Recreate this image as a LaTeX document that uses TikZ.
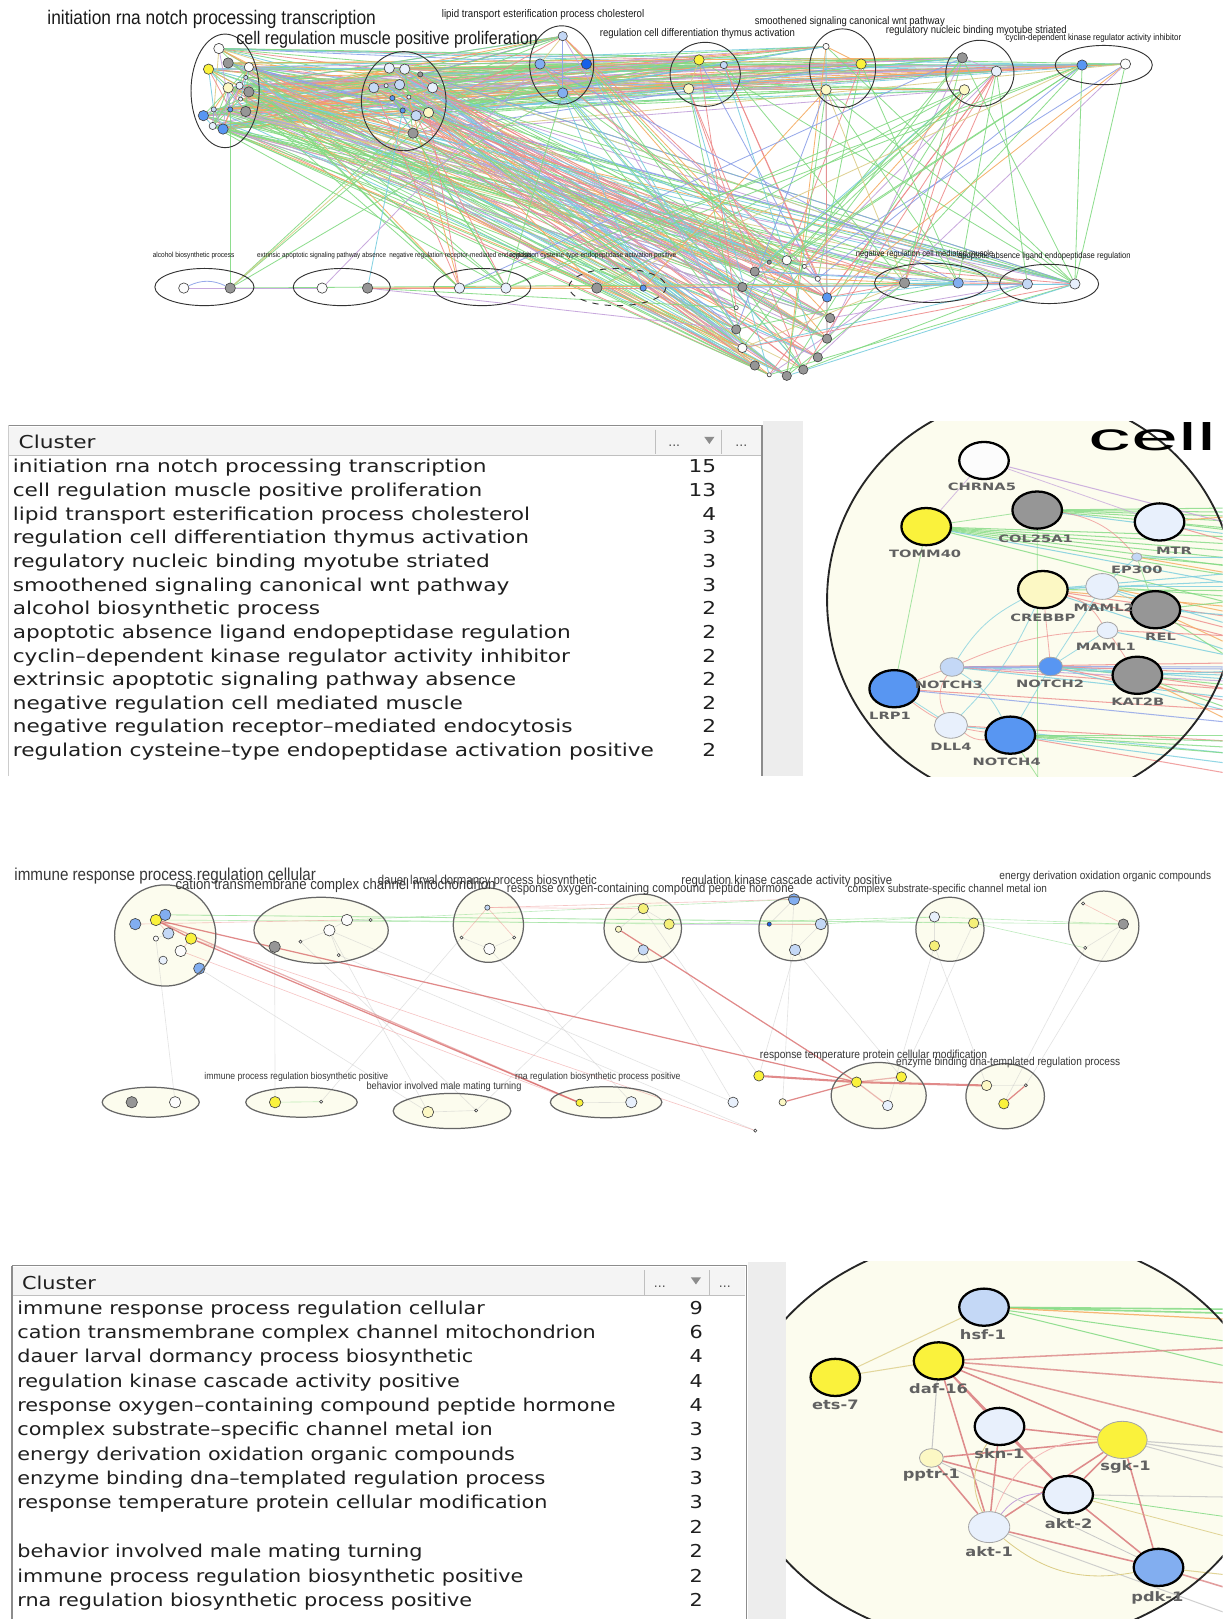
\documentclass[tikz,border=0pt]{standalone}
\usepackage{fontspec}
\usepackage{graphicx}
\usetikzlibrary{shapes.geometric}
\setmainfont{DejaVu Sans}
\newfontfamily\netfont[FakeStretch=0.88]{Liberation Sans}
\newfontfamily\tabfontA[FakeStretch=1.22]{DejaVu Sans}
\newfontfamily\tabfontB[FakeStretch=1.17]{DejaVu Sans}
\newfontfamily\zfontA[FakeStretch=1.45]{DejaVu Sans}
\newfontfamily\zfontB[FakeStretch=1.25]{DejaVu Sans}
\newfontfamily\bigfont{Liberation Sans}
\pgfdeclarelayer{back}
\pgfdeclarelayer{mid}
\pgfsetlayers{back,mid,main}
\definecolor{nwhite}{RGB}{252,252,252}
\definecolor{nvl}{RGB}{232,240,252}
\definecolor{nlb}{RGB}{196,216,246}
\definecolor{nmb}{RGB}{130,174,240}
\definecolor{nbl}{RGB}{88,150,242}
\definecolor{ndb}{RGB}{22,96,232}
\definecolor{ngr}{RGB}{150,150,150}
\definecolor{nye}{RGB}{250,242,60}
\definecolor{nye2}{RGB}{245,240,120}
\definecolor{nly}{RGB}{252,248,196}
\definecolor{eg}{RGB}{130,218,130}
\definecolor{ep}{RGB}{238,140,140}
\definecolor{ec}{RGB}{120,205,222}
\definecolor{el}{RGB}{195,160,218}
\definecolor{eo}{RGB}{245,170,95}
\definecolor{et}{RGB}{220,205,135}
\definecolor{eb}{RGB}{140,160,232}
\definecolor{egr}{RGB}{200,200,200}
\definecolor{ered}{RGB}{215,100,100}
\definecolor{zred}{RGB}{222,140,140}
\definecolor{cream}{RGB}{252,252,238}
\definecolor{strip}{RGB}{237,237,237}
\definecolor{hdr}{RGB}{244,244,244}
\pgfmathdeclarerandomlist{ecol}{{eg}{eg}{eg}{eg}{eg}{eg}{eg}{ep}{ep}{ep}{ec}{ec}{ec}{el}{el}{el}{eo}{eo}{et}{eb}}
\newcommand\rndedge[3]{\pgfmathtruncatemacro\okedge{rnd<#3}\ifnum\okedge=1\relax\pgfmathrandomitem{\edgecol}{ecol}\draw[lnk,draw=\edgecol] (#1) -- (#2);\fi}
\newcommand\netnode[5]{\node[nd,fill=#4,minimum size=#5pt] (#1) at (#2,#3) {};}
\newcommand\netlab[6]{\node[#1] (#2) at (#3,#4) {\resizebox{#5pt}{!}{\netfont #6}};}
\def\Cone{c1a,c1b,c1c,c1d,c1e,c1f,c1g,c1h,c1i,c1j,c1k,c1l,c1m,c1n,c1o}
\def\Ctwo{c2a,c2b,c2c,c2d,c2e,c2f,c2g,c2h,c2i,c2j,c2k,c2l,c2m}
\def\Cright{c3a,c3b,c3c,c3d,c4a,c4b,c4c,c5a,c5b,c5c,c6a,c6b,c6c,c7a,c7b}
\def\Ring{r1,r2,r3,r4,r5,r6,r7,r8,r9,r10,r11,r12,r13,r14,r15,r16,r17}
\def\Brow{b3a,b3b,b4a,b4b,b5a,b5b,b6a,b6b}
\begin{document}
\begin{tikzpicture}[x=0.5pt,y=-0.5pt,
  nd/.style={circle,draw=black!75,line width=0.3pt,inner sep=0pt},
  zn/.style={ellipse,inner sep=0pt,minimum width=24pt,minimum height=18pt,draw=black,line width=1.1pt},
  zs/.style={ellipse,inner sep=0pt,draw=black!35,line width=0.4pt},
  lnk/.style={line width=0.4pt,opacity=0.9},
  ell/.style={draw=black!80,line width=0.45pt},
  bell/.style={draw=black!60,line width=0.6pt},
  nlab/.style={inner sep=0pt,text=black!90},
  mlab/.style={inner sep=0pt,text=black!78},
  tabA/.style={inner sep=0pt,font=\tabfontA\fontsize{8.6}{10}\selectfont,text=black!88},
  tabB/.style={inner sep=0pt,font=\tabfontB\fontsize{8.6}{10}\selectfont,text=black!88},
  dots/.style={inner sep=0pt,font=\fontsize{6}{6}\selectfont,text=black!70},
  zl/.style={line width=0.5pt,opacity=0.8},
  zi/.style={line width=0.4pt,opacity=0.7},
  zlabA/.style={inner sep=0.5pt,font=\zfontA\bfseries\fontsize{4.9}{5}\selectfont,text=black!62},
  zlabB/.style={inner sep=0.5pt,font=\zfontB\bfseries\fontsize{6.3}{7}\selectfont,text=black!62},
  zr/.style={line width=0.75pt,draw=zred},
  bl/.style={line width=0.3pt,opacity=0.5},
  rl/.style={line width=0.6pt,draw=ered,opacity=0.75},
]
\useasboundingbox (0,0) rectangle (1184,1568);
\begin{pgfonlayer}{back}
\fill[white] (0,0) rectangle (1184,1568);
\end{pgfonlayer}
\pgfmathsetseed{4242}

% ================= TOP NETWORK =================
\netnode{c1a}{212}{47}{nwhite}{5}
\netnode{c1b}{221}{61}{ngr}{5}
\netnode{c1c}{241}{65}{nwhite}{4.5}
\netnode{c1d}{202}{67}{nye}{5}
\netnode{c1e}{238}{75}{nlb}{2}
\netnode{c1f}{221}{85}{nly}{5}
\netnode{c1g}{232}{83}{nvl}{3.5}
\netnode{c1h}{241}{89}{ngr}{5}
\netnode{c1i}{233}{96}{nvl}{2}
\netnode{c1j}{223}{106}{nbl}{2.5}
\netnode{c1k}{207}{106}{nlb}{2.5}
\netnode{c1l}{238}{108}{ngr}{5}
\netnode{c1m}{197}{112}{nbl}{5}
\netnode{c1n}{206}{122}{nvl}{3.5}
\netnode{c1o}{216}{125}{nbl}{5}
\netnode{c2a}{377}{66}{nvl}{5}
\netnode{c2b}{392}{67}{nvl}{5}
\netnode{c2c}{407}{72}{ngr}{2.5}
\netnode{c2d}{362}{85}{nlb}{5}
\netnode{c2e}{374}{83}{nvl}{2}
\netnode{c2f}{387}{82}{nlb}{5}
\netnode{c2g}{419}{85}{nvl}{5}
\netnode{c2h}{380}{95}{nbl}{2.5}
\netnode{c2i}{396}{94}{nvl}{2}
\netnode{c2j}{390}{107}{nbl}{2.5}
\netnode{c2k}{403}{112}{nlb}{5}
\netnode{c2l}{415}{109}{nly}{5}
\netnode{c2m}{400}{129}{ngr}{5}
\netnode{c3a}{545}{35}{nlb}{4.5}
\netnode{c3b}{523}{62}{nmb}{5}
\netnode{c3c}{568}{62}{ndb}{5}
\netnode{c3d}{545}{90}{nmb}{5}
\netnode{c4a}{677}{58}{nye}{5}
\netnode{c4b}{701}{63}{nlb}{3.5}
\netnode{c4c}{667}{86}{nly}{5}
\netnode{c5a}{800}{45}{nwhite}{3}
\netnode{c5b}{834}{62}{nye}{5}
\netnode{c5c}{800}{87}{nly}{5}
\netnode{c6a}{932}{56}{ngr}{5}
\netnode{c6b}{965}{69}{nvl}{5}
\netnode{c6c}{934}{87}{nly}{5}
\netnode{c7a}{1048}{63}{nbl}{5}
\netnode{c7b}{1090}{62}{nwhite}{5}
\netnode{b1a}{178}{279}{nwhite}{5}
\netnode{b1b}{223}{279}{ngr}{5}
\netnode{b2a}{312}{279}{nwhite}{5}
\netnode{b2b}{356}{279}{ngr}{5}
\netnode{b3a}{445}{279}{nvl}{5}
\netnode{b3b}{490}{279}{nvl}{5}
\netnode{b4a}{578}{279}{ngr}{5}
\netnode{b4b}{623}{279}{nbl}{3}
\netnode{b5a}{876}{274}{ngr}{5}
\netnode{b5b}{928}{274}{nmb}{5}
\netnode{b6a}{995}{275}{nlb}{5}
\netnode{b6b}{1041}{275}{nvl}{5}
\netnode{r1}{731}{263}{ngr}{4.5}
\netnode{r2}{745}{254}{ngr}{2}
\netnode{r3}{762}{252}{nwhite}{4.5}
\netnode{r4}{779}{258}{nwhite}{2}
\netnode{r5}{792}{270}{nwhite}{2.5}
\netnode{r6}{719}{278}{ngr}{4.5}
\netnode{r7}{801}{288}{nbl}{4.5}
\netnode{r8}{713}{298}{nwhite}{2}
\netnode{r9}{804}{308}{ngr}{4.5}
\netnode{r10}{713}{319}{ngr}{4.5}
\netnode{r11}{801}{328}{ngr}{4.5}
\netnode{r12}{719}{337}{nwhite}{4.5}
\netnode{r13}{792}{346}{ngr}{4.5}
\netnode{r14}{731}{354}{ngr}{4.5}
\netnode{r15}{778}{358}{ngr}{4.5}
\netnode{r16}{745}{363}{nwhite}{2}
\netnode{r17}{762}{364}{ngr}{4.5}

\begin{pgfonlayer}{mid}
\foreach \s in \Cone {\foreach \t in \Ctwo {\rndedge{\s}{\t}{0.28}}}
\foreach \s in \Cone {\foreach \t in \Cright {\rndedge{\s}{\t}{0.30}}}
\foreach \s in \Cone {\foreach \t in \Ring {\rndedge{\s}{\t}{0.22}}}
\foreach \s in \Cone {\foreach \t in \Brow {\rndedge{\s}{\t}{0.20}}}
\foreach \s in \Ctwo {\foreach \t in \Cright {\rndedge{\s}{\t}{0.30}}}
\foreach \s in \Ctwo {\foreach \t in \Ring {\rndedge{\s}{\t}{0.25}}}
\foreach \s in \Ctwo {\foreach \t in \Brow {\rndedge{\s}{\t}{0.22}}}
\foreach \s in \Cright {\foreach \t in \Ring {\rndedge{\s}{\t}{0.16}}}
\foreach \s in \Cright {\foreach \t in \Brow {\rndedge{\s}{\t}{0.13}}}
\foreach \s in {b1b,b2a,b2b,b3a,b3b,b4a,b4b} {\foreach \t in {r6,r8,r10,r12,r7,r9,b5a,b5b,b6a,b6b} {\rndedge{\s}{\t}{0.15}}}
\foreach \s in \Ring {\foreach \t in {b5a,b5b,b6a,b6b} {\rndedge{\s}{\t}{0.30}}}
\foreach \s [count=\i] in \Cone {\foreach \t [count=\j] in \Cone {\ifnum\i<\j \rndedge{\s}{\t}{0.22}\fi}}
\foreach \s [count=\i] in \Ctwo {\foreach \t [count=\j] in \Ctwo {\ifnum\i<\j \rndedge{\s}{\t}{0.18}\fi}}
\draw[lnk,eg] (c1j) -- (b1b);
\draw[lnk,eb] (b1a) to[bend left=25] (b1b);
\draw[lnk,el] (b1a) -- (b1b);
\draw[lnk,eg] (b1b) -- (c2m);
\draw[lnk,eg] (b1b) -- (c2k);
\draw[lnk,eg] (b1b) -- (c3d);
\draw[lnk,et] (b1b) -- (c2l);
\draw[lnk,ec] (b2b) -- (c2j);
\draw[lnk,el] (b2a) -- (c3b);
\draw[lnk,el] (b1b) -- (b2a);
\draw[lnk,ep] (b2b) -- (b3a);
\draw[lnk,ec] (b3a) -- (b3b);
\draw[lnk,eo] (b3b) -- (b4a);
\draw[lnk,ep] (b4a) -- (b4b);
\draw[lnk,ec] (b5a) -- (b5b);
\draw[lnk,ep] (b5b) -- (b6a);
\draw[lnk,ec] (b6a) -- (b6b);
\draw[lnk,eg] (c6b) -- (b5b);
\draw[lnk,eg] (c6b) -- (b6a);
\draw[lnk,eg] (c7a) -- (b6b);
\draw[lnk,eg] (c7b) -- (b6b);
\draw[lnk,eo] (c5a) -- (c5b);
\draw[lnk,et] (c4a) -- (c4c);
\draw[lnk,el] (c6a) -- (c6b);
\draw[lnk,eg] (c7a) -- (c7b);
\draw[lnk,eb] (c3a) -- (c3d);
\draw[lnk,et] (c3a) -- (c3b);
\end{pgfonlayer}

\draw[ell] (218,88) ellipse [x radius=33,y radius=55];
\draw[ell] (391,98) ellipse [x radius=41,y radius=48];
\draw[ell] (544,63) ellipse [x radius=31,y radius=38];
\draw[ell] (683,72) ellipse [x radius=34,y radius=31];
\draw[ell] (816,66) ellipse [x radius=32,y radius=38];
\draw[ell] (949,71) ellipse [x radius=33,y radius=32];
\draw[ell] (1069,63) ellipse [x radius=47,y radius=19];
\draw[ell] (198,278) ellipse [x radius=48,y radius=18];
\draw[ell] (331,278) ellipse [x radius=47,y radius=18];
\draw[ell] (467,278) ellipse [x radius=47,y radius=18];
\draw[ell,dashed] (598,278) ellipse [x radius=47,y radius=18];
\draw[ell] (902,274) ellipse [x radius=55,y radius=19];
\draw[ell] (1016,275) ellipse [x radius=48,y radius=19];

\netlab{nlab}{L1}{205}{19}{159}{initiation rna notch processing transcription}
\netlab{nlab}{L2}{375}{39}{146}{cell regulation muscle positive proliferation}
\netlab{nlab}{L3}{526}{14}{98}{lipid transport esterification process cholesterol}
\netlab{nlab}{L4}{675.5}{33}{94.5}{regulation cell differentiation thymus activation}
\netlab{nlab}{L5}{823}{21}{92}{smoothened signaling canonical wnt pathway}
\netlab{nlab}{L6}{945.5}{30}{87.5}{regulatory nucleic binding myotube striated}
\netlab{nlab}{L7}{1059}{37}{85}{cyclin-dependent kinase regulator activity inhibitor}
\netlab{nlab}{L8}{187.5}{248}{39.5}{alcohol biosynthetic process}
\netlab{nlab}{L9}{311.5}{248}{62.5}{extrinsic apoptotic signaling pathway absence}
\netlab{nlab}{L10}{446}{248}{69}{negative regulation receptor-mediated endocytosis}
\netlab{nlab}{L11}{574.5}{248}{80.5}{regulation cysteine-type endopeptidase activation positive}
\netlab{nlab}{L12}{895.5}{246}{66.5}{negative regulation cell mediated muscle}
\netlab{nlab}{L13}{1011.5}{248}{83.5}{apoptotic absence ligand endopeptidase regulation}

% ================= TOP TABLE =================
\fill[hdr] (9,413.5) rectangle (737,441);
\draw[black!25,line width=0.4pt] (9,441) -- (737,441);
\draw[black!45,line width=0.6pt] (8,412) -- (738,412);
\draw[black!20,line width=0.4pt] (8.5,412) -- (8.5,752);
\draw[black!45,line width=0.6pt] (738,412) -- (738,752);
\fill[strip] (739,408) rectangle (778,752);
\draw[black!25,line width=0.4pt] (635,416) -- (635,440);
\draw[black!25,line width=0.4pt] (699,416) -- (699,440);
\node[tabA,anchor=base west] (hA) at (17.7,434.4) {Cluster};
\node[dots] (dA1) at (653,432) {...};
\node[dots] (dA2) at (718,432) {...};
\fill[black!45] (682,423) -- (692,423) -- (687,430) -- cycle;
\foreach \tx/\nm [count=\i from 0] in {initiation rna notch processing transcription/15,
  cell regulation muscle positive proliferation/13,
  lipid transport esterification process cholesterol/4,
  regulation cell differentiation thymus activation/3,
  regulatory nucleic binding myotube striated/3,
  smoothened signaling canonical wnt pathway/3,
  alcohol biosynthetic process/2,
  apoptotic absence ligand endopeptidase regulation/2,
  cyclin–dependent kinase regulator activity inhibitor/2,
  extrinsic apoptotic signaling pathway absence/2,
  negative regulation cell mediated muscle/2,
  negative regulation receptor–mediated endocytosis/2,
  regulation cysteine–type endopeptidase activation positive/2}{
  \node[tabA,anchor=base west] (ta\i) at (12,{458+\i*22.9}) {\tx};
  \node[tabA,anchor=base east] (tn\i) at (694,{458+\i*22.9}) {\nm};
}

% ================= TOP ZOOM PANEL =================
\begin{pgfonlayer}{back}
\begin{scope}
\clip (778,408) rectangle (1184,752);
\fill[cream] (999,581) ellipse [x radius=198,y radius=198];
\end{scope}
\end{pgfonlayer}
\node[zn,fill=nwhite] (zCHR) at (953,446) {};
\node[zn,fill=ngr] (zCOL) at (1004.5,494) {};
\node[zn,fill=nye] (zTOM) at (897,510) {};
\node[zn,fill=nvl] (zMTR) at (1123,505.5) {};
\node[zs,fill=nlb,minimum width=5pt,minimum height=4pt] (zEP) at (1101,539.5) {};
\node[zn,fill=nly] (zCRE) at (1010,571) {};
\node[zs,fill=nvl,minimum width=16pt,minimum height=12.5pt] (zMA2) at (1067.5,568) {};
\node[zn,fill=ngr] (zREL) at (1119,590.5) {};
\node[zs,fill=nvl,minimum width=10pt,minimum height=8pt] (zMA1) at (1072.5,610.5) {};
\node[zs,fill=nlb,minimum width=11.5pt,minimum height=9pt] (zN3) at (922,646) {};
\node[zs,fill=nbl,minimum width=11.5pt,minimum height=9pt] (zN2) at (1017.5,645.5) {};
\node[zn,fill=ngr] (zKAT) at (1101.5,654) {};
\node[zn,fill=nbl] (zLRP) at (866,667) {};
\node[zs,fill=nvl,minimum width=16pt,minimum height=12.5pt] (zDLL) at (921,702.5) {};
\node[zn,fill=nbl] (zN4) at (978.5,712) {};
\begin{pgfonlayer}{mid}
\begin{scope}
\clip (778,408) rectangle (1184,752);
\foreach \src/\yy/\col [count=\k] in {zTOM/520/eg,zTOM/527/eg,zTOM/534/eg,zTOM/541/eg,zTOM/549/eg,zTOM/558/eg,zTOM/566/ec,zTOM/585/eg,
  zCOL/492/eg,zCOL/496/eg,zCOL/500/eg,zCOL/505/eg,zCOL/512/eg,zCOL/518/ec,zCHR/508/el,
  zMTR/500/eo,zMTR/514/eg,zMTR/526/ep,zEP/540/ec,zEP/548/eg,zEP/556/eo,
  zCRE/555/ec,zCRE/563/ec,zCRE/572/eg,zCRE/588/eo,zCRE/598/ep,zCRE/618/ep,zCRE/632/ec,
  zMA2/568/ec,zMA2/578/eg,zMA2/594/eo,zMA2/606/ec,
  zREL/582/eg,zREL/596/ec,zREL/610/ep,zREL/626/eo,zREL/640/eg,
  zMA1/616/ep,zMA1/636/ec,
  zN3/642/ep,zN3/648/eb,zN3/654/ec,zN3/660/el,zN3/668/ep,zN3/676/ec,
  zN2/646/eb,zN2/652/ep,zN2/658/ec,zN2/664/eg,zN2/680/ep,zN2/690/ec,
  zKAT/650/ec,zKAT/668/ep,zKAT/688/eg,zKAT/700/eo,
  zLRP/688/ep,zLRP/700/eb,zDLL/718/ep,zDLL/730/ec,
  zN4/712/eg,zN4/718/eg,zN4/724/eg,zN4/730/eg,zN4/740/ec,zN4/750/ep}{
  \coordinate (zq\k) at (1195,\yy);
  \draw[zl,draw=\col] (\src) -- (zq\k);
}
\coordinate (zb1) at (1005,760);
\coordinate (zb2) at (1010,760);
\draw[zi,el] (zCHR) -- (zTOM);
\draw[zi,el] (zCHR) -- (zMTR);
\draw[zi,eg] (zTOM) -- (zCOL);
\draw[zi,eg] (zTOM) -- (zLRP);
\draw[zi,ep] (zCOL) to[bend left=20] (zEP);
\draw[zi,eg] (zCOL) -- (zb1);
\draw[zi,eg] (zN4) -- (zb2);
\draw[zi,ec] (zCRE) -- (zMA2);
\draw[zi,ec] (zCRE) to[bend right=15] (zN3);
\draw[zi,ep] (zCRE) -- (zN2);
\draw[zi,ec] (zMA2) -- (zN2);
\draw[zi,ec] (zMA1) -- (zN2);
\draw[zi,ep] (zMA1) to[bend right=10] (zN3);
\draw[zi,eb] (zN3) -- (zN2);
\draw[zi,ep] (zN3) -- (zLRP);
\draw[zi,ep] (zN3) to[bend right=30] (zDLL);
\draw[zi,ec] (zN2) -- (zN4);
\draw[zi,ep] (zDLL) to[bend right=20] (zN4);
\draw[zi,ec] (zLRP) -- (zDLL);
\draw[zi,ep] (zLRP) to[bend right=15] (zN4);
\draw[zi,ec] (zN2) -- (zKAT);
\draw[zi,ep] (zMA1) -- (zKAT);
\draw[zi,ec] (zEP) -- (zMA2);
\draw[zi,eg] (zEP) -- (zREL);
\draw[zi,ec] (zMA2) -- (zREL);
\draw[zi,ep] (zCRE) to[bend left=20] (zMA1);
\draw[zi,ec] (zCRE) to[bend left=10] (zDLL);
\draw[zi,ec] (zN3) to[bend left=15] (zN4);
\end{scope}
\end{pgfonlayer}
\begin{scope}
\clip (778,408) rectangle (1184,752);
\draw[black!85,line width=0.9pt] (999,581) ellipse [x radius=198,y radius=198];
\node[inner sep=0,anchor=base west] (cellword) at (1054,436) {\scalebox{2.2}[1]{\bigfont\fontsize{18.7}{19}\selectfont cell}};
\end{scope}
\node[zlabA] (lCHR) at (951,471) {CHRNA5};
\node[zlabA] (lCOL) at (1003,522) {COL25A1};
\node[zlabA] (lTOM) at (896,536) {TOMM40};
\node[zlabA] (lMTR) at (1137,533) {MTR};
\node[zlabA] (lEP) at (1101,552) {EP300};
\node[zlabA] (lCRE) at (1010,598) {CREBBP};
\node[zlabA] (lMA2) at (1069,589) {MAML2};
\node[zlabA] (lREL) at (1124,617) {REL};
\node[zlabA] (lMA1) at (1071,626) {MAML1};
\node[zlabA] (lN3) at (919,663) {NOTCH3};
\node[zlabA] (lN2) at (1017,662) {NOTCH2};
\node[zlabA] (lKAT) at (1102,680) {KAT2B};
\node[zlabA] (lLRP) at (862,693) {LRP1};
\node[zlabA] (lDLL) at (921,723) {DLL4};
\node[zlabA] (lN4) at (975,738) {NOTCH4};

% ================= BOTTOM NETWORK =================
\begin{pgfonlayer}{back}
\fill[cream] (160,906) ellipse [x radius=49,y radius=49];
\fill[cream] (311,901) ellipse [x radius=65,y radius=32];
\fill[cream] (473,896) ellipse [x radius=34,y radius=36];
\fill[cream] (622.5,899) ellipse [x radius=37.5,y radius=33];
\fill[cream] (768.5,899.5) ellipse [x radius=33.5,y radius=31];
\fill[cream] (920,900) ellipse [x radius=33,y radius=31];
\fill[cream] (1069,897) ellipse [x radius=34,y radius=34];
\fill[cream] (146,1067.5) ellipse [x radius=47,y radius=14.5];
\fill[cream] (292,1067.5) ellipse [x radius=54,y radius=14.5];
\fill[cream] (437.8,1076) ellipse [x radius=57,y radius=17];
\fill[cream] (587,1067.5) ellipse [x radius=54,y radius=15];
\fill[cream] (851,1061) ellipse [x radius=46,y radius=32];
\fill[cream] (973.5,1061.7) ellipse [x radius=38,y radius=31.5];
\end{pgfonlayer}
\netnode{i1}{160}{886}{nmb}{5.5}
\netnode{i2}{131}{895}{nmb}{5.5}
\netnode{i3}{151}{891}{nye}{5.5}
\netnode{i4}{163}{904}{nlb}{5.5}
\netnode{i5}{151}{909}{nwhite}{2.5}
\netnode{i6}{185}{909}{nye}{5.5}
\netnode{i7}{175}{921}{nwhite}{5.5}
\netnode{i8}{158}{930}{nvl}{4}
\netnode{i9}{193}{938}{nmb}{5.5}
\netnode{k1}{336}{891}{nwhite}{5.5}
\netnode{k2}{319}{901}{nwhite}{5.5}
\netnode{k3}{266}{917}{ngr}{5.5}
\netnode{k4}{359}{891}{nwhite}{1.5}
\netnode{k5}{291}{912}{nwhite}{1.5}
\netnode{k6}{328}{925}{nwhite}{1.5}
\netnode{d1}{472}{879}{nlb}{2.5}
\netnode{d2}{447}{908}{nwhite}{1.5}
\netnode{d3}{498}{908}{nwhite}{1.5}
\netnode{d4}{474}{919}{nwhite}{5.5}
\netnode{o1}{623}{880}{nye2}{5}
\netnode{o2}{648}{895}{nye2}{5}
\netnode{o3}{623}{920}{nlb}{5}
\netnode{o4}{599}{900}{nly}{3}
\netnode{q1}{769}{871}{nmb}{5.5}
\netnode{q2}{795}{895}{nlb}{5.5}
\netnode{q3}{770}{920}{nlb}{5.5}
\netnode{q4}{745}{895}{ndb}{2}
\netnode{s1}{905}{888}{nvl}{5}
\netnode{s2}{943}{894}{nye2}{5}
\netnode{s3}{905}{916}{nye2}{5}
\netnode{g1}{1049}{875}{nwhite}{1.5}
\netnode{g2}{1088}{895}{ngr}{5}
\netnode{g3}{1051}{918}{nwhite}{1.5}
\netnode{u1}{127.6}{1067.5}{ngr}{5.5}
\netnode{u2}{169.6}{1067.5}{nwhite}{5.5}
\netnode{p1}{266.4}{1067.5}{nye}{5.5}
\netnode{p2}{311}{1067}{nwhite}{1.5}
\netnode{h1}{414.5}{1077}{nly}{5.5}
\netnode{h2}{461.2}{1075.5}{nwhite}{1.5}
\netnode{n1}{561.3}{1068}{nye}{3.5}
\netnode{n2}{611.4}{1067.5}{nvl}{5.5}
\netnode{x1}{735}{1042}{nye}{5}
\netnode{x2}{710}{1067.5}{nvl}{5}
\netnode{x3}{758}{1067.5}{nly}{3.5}
\netnode{x4}{731.5}{1095}{nwhite}{1.5}
\netnode{t1}{829.6}{1048}{nye}{5}
\netnode{t2}{873}{1043}{nye}{5}
\netnode{t3}{859.7}{1070.7}{nvl}{5}
\netnode{e1}{955.5}{1051.3}{nly}{5}
\netnode{e2}{993.5}{1051}{nwhite}{1.5}
\netnode{e3}{972.2}{1069}{nye}{5}
\begin{pgfonlayer}{mid}
\foreach \a/\b/\c in {i1/g2/eg,i1/s2/eg,i3/q2/eg,k1/o2/eg,k1/q1/eg,d1/o1/ep,o2/q4/el,q2/s1/eg,s1/g2/eg,s2/g3/eg,
  i5/u2/egr,k3/p1/egr,k2/h1/egr,k5/h2/egr,d4/n2/egr,o3/x2/egr,q3/x1/egr,q3/t2/egr,s3/t3/egr,s3/e1/egr,g3/e3/egr,
  d2/p2/egr,o3/h2/egr,q1/x3/egr,i7/n1/ep,k6/x4/egr,g2/e2/egr,s2/t2/egr,o1/x1/egr,i6/x4/ep,i9/h1/egr,k2/x2/egr,
  i1/i3/egr,i3/i4/ep,i4/i5/egr,i6/i7/ep,k1/k2/egr,k2/k5/egr,k2/k6/egr,k4/k1/egr,d1/d2/ep,d1/d3/ep,d2/d4/egr,d3/d4/egr,
  o4/o1/egr,o1/o2/egr,q1/q4/egr,q4/q2/ep,q2/q3/egr,s1/s3/egr,g1/g2/ep,g2/g3/egr,h1/h2/egr,p1/p2/eg,n1/n2/egr,e1/e2/egr,
  d1/q1/ep,i2/k1/ep,o2/s1/eg}{
  \draw[bl,draw=\c] (\a) -- (\b);
}
\draw[rl] (i3) -- (t1);
\draw[rl] (i6) -- (n1);
\draw[rl,opacity=0.5] (i3) -- (n1);
\draw[rl] (o4) -- (t1);
\draw[rl] (i3) -- (i6);
\draw[rl,line width=1pt] (x1) -- (t1);
\draw[rl,line width=1pt] (t1) -- (e1);
\draw[rl] (x3) -- (t1);
\draw[rl,opacity=0.45] (t1) -- (t2);
\draw[rl,opacity=0.45] (t1) -- (t3);
\draw[rl] (e2) -- (e3);
\end{pgfonlayer}
\draw[bell] (160,906) ellipse [x radius=49,y radius=49];
\draw[bell] (311,901) ellipse [x radius=65,y radius=32];
\draw[bell] (473,896) ellipse [x radius=34,y radius=36];
\draw[bell] (622.5,899) ellipse [x radius=37.5,y radius=33];
\draw[bell] (768.5,899.5) ellipse [x radius=33.5,y radius=31];
\draw[bell] (920,900) ellipse [x radius=33,y radius=31];
\draw[bell] (1069,897) ellipse [x radius=34,y radius=34];
\draw[bell] (146,1067.5) ellipse [x radius=47,y radius=14.5];
\draw[bell] (292,1067.5) ellipse [x radius=54,y radius=14.5];
\draw[bell] (437.8,1076) ellipse [x radius=57,y radius=17];
\draw[bell] (587,1067.5) ellipse [x radius=54,y radius=15];
\draw[bell] (851,1061) ellipse [x radius=46,y radius=32];
\draw[bell] (973.5,1061.7) ellipse [x radius=38,y radius=31.5];
\netlab{mlab}{M1}{160}{848}{146}{immune response process regulation cellular}
\netlab{mlab}{M2}{325}{858}{155}{cation transmembrane complex channel mitochondrion}
\netlab{mlab}{M3}{472}{853}{106}{dauer larval dormancy process biosynthetic}
\netlab{mlab}{M4}{630}{861}{139}{response oxygen-containing compound peptide hormone}
\netlab{mlab}{M5}{762}{853}{102}{regulation kinase cascade activity positive}
\netlab{mlab}{M6}{917.5}{862}{96.5}{complex substrate-specific channel metal ion}
\netlab{mlab}{M7}{1070.5}{849}{102.5}{energy derivation oxidation organic compounds}
\netlab{mlab}{M8}{846}{1022}{110}{response temperature protein cellular modification}
\netlab{mlab}{M9}{976.5}{1029}{108.5}{enzyme binding dna-templated regulation process}
\netlab{mlab}{M10}{287}{1043}{89}{immune process regulation biosynthetic positive}
\netlab{mlab}{M11}{430}{1053}{75}{behavior involved male mating turning}
\netlab{mlab}{M12}{579}{1043}{80}{rna regulation biosynthetic process positive}

% ================= BOTTOM TABLE =================
\fill[hdr] (12.5,1227) rectangle (722,1255);
\draw[black!25,line width=0.4pt] (12.5,1255) -- (722,1255);
\draw[black!45,line width=0.6pt] (11.7,1225.8) -- (723.3,1225.8);
\draw[black!45,line width=0.6pt] (11.7,1225.8) -- (11.7,1568);
\draw[black!45,line width=0.6pt] (723.3,1225.8) -- (723.3,1568);
\fill[strip] (724,1222) rectangle (761,1568);
\draw[black!25,line width=0.4pt] (624,1230) -- (624,1254);
\draw[black!25,line width=0.4pt] (687,1230) -- (687,1254);
\node[tabB,anchor=base west] (hB) at (21,1248.4) {Cluster};
\node[dots] (dB1) at (639,1246) {...};
\node[dots] (dB2) at (702,1246) {...};
\fill[black!45] (669,1237) -- (679,1237) -- (674,1244) -- cycle;
\foreach \tx/\nm [count=\i from 0] in {immune response process regulation cellular/9,
  cation transmembrane complex channel mitochondrion/6,
  dauer larval dormancy process biosynthetic/4,
  regulation kinase cascade activity positive/4,
  response oxygen–containing compound peptide hormone/4,
  complex substrate–specific channel metal ion/3,
  energy derivation oxidation organic compounds/3,
  enzyme binding dna–templated regulation process/3,
  response temperature protein cellular modification/3,
  /2,
  behavior involved male mating turning/2,
  immune process regulation biosynthetic positive/2,
  rna regulation biosynthetic process positive/2}{
  \node[tabB,anchor=base west] (tb\i) at (16.4,{1272.6+\i*23.6}) {\tx};
  \node[tabB,anchor=base east] (tm\i) at (681,{1272.6+\i*23.6}) {\nm};
}

% ================= BOTTOM ZOOM PANEL =================
\begin{pgfonlayer}{back}
\begin{scope}
\clip (761,1222) rectangle (1184,1568);
\fill[cream] (971,1394) ellipse [x radius=258,y radius=201];
\end{scope}
\end{pgfonlayer}
\node[zn,fill=nlb] (zhsf) at (953,1266) {};
\node[zn,fill=nye] (zdaf) at (909,1318) {};
\node[zn,fill=nye] (zets) at (809,1334) {};
\node[zn,fill=nvl] (zskn) at (968,1381.5) {};
\node[zs,fill=nye,minimum width=24pt,minimum height=18pt] (zsgk) at (1087,1394.5) {};
\node[zs,fill=nly,minimum width=11.5pt,minimum height=9pt] (zppt) at (902,1412) {};
\node[zn,fill=nvl] (zakt2) at (1034.5,1447.5) {};
\node[zs,fill=nvl,minimum width=20pt,minimum height=15pt] (zakt1) at (958,1479) {};
\node[zn,fill=nmb] (zpdk) at (1122,1518) {};
\begin{pgfonlayer}{mid}
\begin{scope}
\clip (761,1222) rectangle (1184,1568);
\foreach \src/\yy/\col/\w [count=\k] in {zhsf/1268/eg/0.8,zhsf/1272/eg/0.8,zhsf/1278/eo/0.6,zhsf/1300/eg/0.5,zhsf/1325/eg/0.5,
  zdaf/1305/zred/0.75,zdaf/1340/zred/0.75,zdaf/1390/zred/0.75,
  zsgk/1402/egr/0.6,zsgk/1412/egr/0.6,zsgk/1424/egr/0.5,
  zakt2/1450/egr/0.5,zakt2/1470/eg/0.4,zakt2/1490/et/0.4,
  zpdk/1540/zred/0.75,zpdk/1526/et/0.5,zakt1/1565/egr/0.5}{
  \coordinate (zw\k) at (1195,\yy);
  \draw[line width=\w pt,draw=\col,opacity=0.85] (\src) -- (zw\k);
}
\foreach \a/\b in {zdaf/zskn,zdaf/zakt1,zdaf/zakt2,zdaf/zsgk,zskn/zsgk,zskn/zakt2,zskn/zakt1,zppt/zsgk,zppt/zakt2,zppt/zakt1,
  zakt1/zsgk,zakt2/zsgk,zakt1/zpdk,zakt2/zpdk,zsgk/zpdk}{
  \draw[zr] (\a) -- (\b);
}
\draw[line width=0.5pt,draw=et,opacity=0.8] (zhsf) -- (zets);
\draw[line width=0.5pt,draw=et,opacity=0.8] (zets) -- (zdaf);
\draw[line width=0.5pt,draw=egr] (zdaf) -- (zppt);
\draw[line width=0.4pt,draw=el] (zakt1) to[bend left=25] (zakt2);
\draw[line width=0.4pt,draw=egr] (zppt) -- (zpdk);
\draw[line width=0.4pt,draw=et] (zakt1) to[bend right=25] (zpdk);
\draw[line width=0.4pt,draw=et] (zskn) to[bend right=30] (zakt1);
\draw[line width=0.4pt,draw=ep!60] (zakt1) to[bend left=35] (zsgk);
\end{scope}
\end{pgfonlayer}
\begin{scope}
\clip (761,1222) rectangle (1184,1568);
\draw[black!85,line width=0.9pt] (971,1394) ellipse [x radius=258,y radius=201];
\end{scope}
\node[zlabB] (lhsf) at (952,1293) {hsf-1};
\node[zlabB] (ldaf) at (909,1345) {daf-16};
\node[zlabB] (lets) at (809,1361) {ets-7};
\node[zlabB] (lskn) at (968,1408) {skn-1};
\node[zlabB] (lsgk) at (1090,1421) {sgk-1};
\node[zlabB] (lppt) at (902,1429) {pptr-1};
\node[zlabB] (lakt2) at (1035,1476) {akt-2};
\node[zlabB] (lakt1) at (958,1503) {akt-1};
\node[zlabB] (lpdk) at (1121,1548) {pdk-1};
\end{tikzpicture}
\end{document}
